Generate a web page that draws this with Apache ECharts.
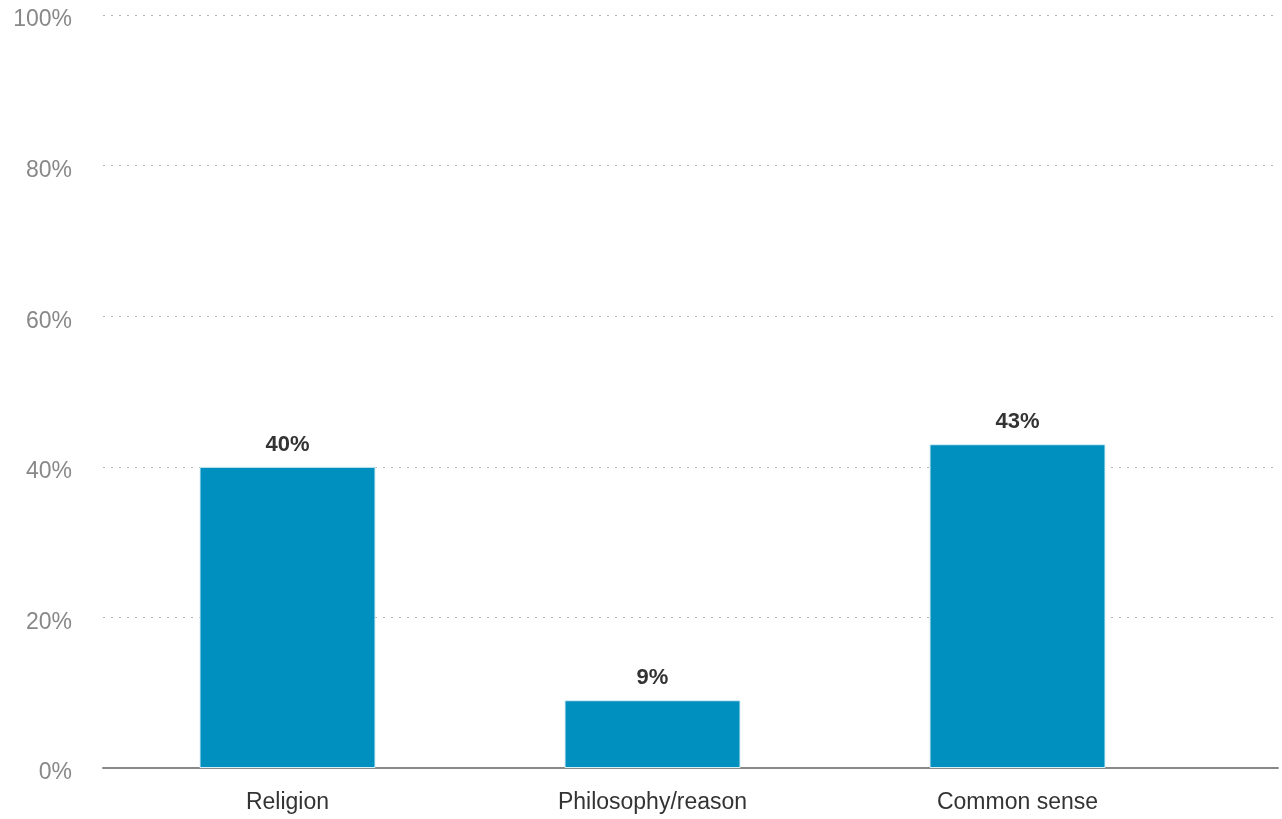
<!DOCTYPE html>
<html>
<head>
<meta charset="utf-8">
<style>html,body{margin:0;padding:0;background:#fff;}#chart{width:1282px;height:819px;}</style>
<script src="https://cdn.jsdelivr.net/npm/echarts@6/dist/echarts.min.js"></script>
</head>
<body>
<div id="chart"></div>
<script>
const categories = ["Religion", "Philosophy/reason", "Common sense"];
const values = [40, 9, 43];
const yTicks = [0, 20, 40, 60, 80, 100];

const chart = echarts.init(document.getElementById('chart'));
const font = '"Liberation Sans", Arial, sans-serif';
chart.setOption({
  animation: false,
  backgroundColor: '#ffffff',
  grid: [
    { left: 103, right: 4, top: 15, bottom: 51, containLabel: false },
    { left: 105, right: 82, top: 15, bottom: 51, containLabel: false }
  ],
  xAxis: [
    { gridIndex: 0, type: 'value', min: 0, max: 1, show: true,
      axisLine: { show: true, lineStyle: { color: '#888888', width: 2 } },
      axisTick: { show: false }, axisLabel: { show: false }, splitLine: { show: false } },
    { gridIndex: 1, type: 'category', data: categories,
      axisLine: { show: false }, axisTick: { show: false },
      axisLabel: { color: '#333333', fontSize: 23, fontFamily: font, margin: 23 } }
  ],
  yAxis: [
    { gridIndex: 0, type: 'value', min: yTicks[0], max: yTicks[yTicks.length - 1], interval: 20,
      axisLine: { show: false }, axisTick: { show: false },
      axisLabel: { color: '#888888', fontSize: 23, fontFamily: font, margin: 31,
        verticalAlign: 'top', lineHeight: 10, formatter: v => v + '%' },
      splitLine: { show: true, lineStyle: { color: '#b5b5b5', type: [2, 6], width: 1.2 } } },
    { gridIndex: 1, type: 'value', min: 0, max: 100, show: false, splitLine: { show: false } }
  ],
  series: [
    { type: 'bar', xAxisIndex: 1, yAxisIndex: 1, data: values, barWidth: 176,
      itemStyle: { color: '#0090c0', borderColor: '#d8eef6', borderWidth: 1 },
      label: { show: true, position: 'top', distance: 11, color: '#333333', fontSize: 22,
        fontWeight: 'bold', fontFamily: font, formatter: p => p.value + '%' } }
  ]
});
</script>
</body>
</html>
